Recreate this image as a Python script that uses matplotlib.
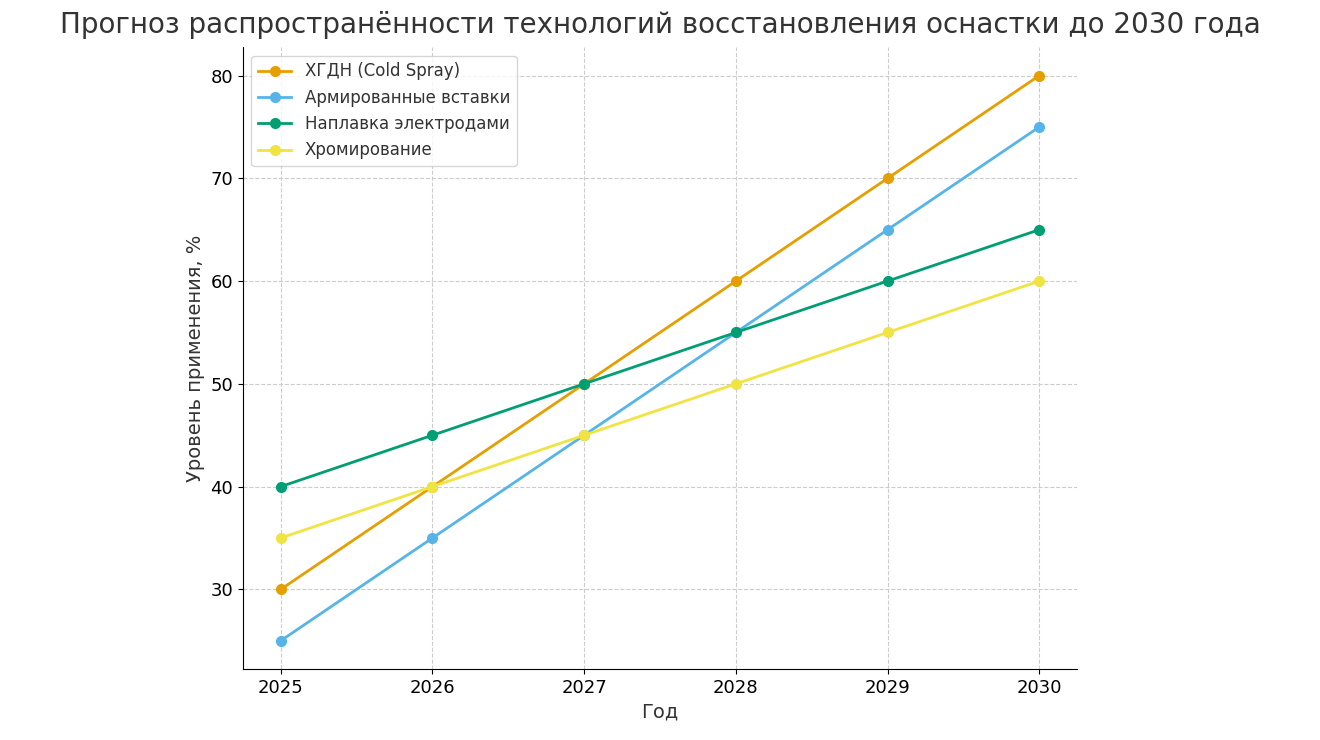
import matplotlib
matplotlib.use("Agg")
import matplotlib.pyplot as plt

years = [2025, 2026, 2027, 2028, 2029, 2030]
cold_spray = [30, 40, 50, 60, 70, 80]
inserts = [25, 35, 45, 55, 65, 75]
welding = [40, 45, 50, 55, 60, 65]
chrome = [35, 40, 45, 50, 55, 60]
labels = ["ХГДН (Cold Spray)", "Армированные вставки", "Наплавка электродами", "Хромирование"]
colors = ["#E69F00", "#56B4E9", "#009E73", "#F0E442"]

fig = plt.figure(figsize=(13.2, 7.4), dpi=100)
ax = fig.add_axes([0.184, 0.096, 0.632, 0.84])
for ys, lab, c in zip([cold_spray, inserts, welding, chrome], labels, colors):
    ax.plot(years, ys, marker="o", color=c, label=lab, linewidth=2, markersize=7)
ax.grid(True, linestyle="--", color="#cccccc", linewidth=0.8)
ax.spines["top"].set_visible(False)
ax.spines["right"].set_visible(False)
ax.tick_params(labelsize=13)
ax.set_xticks(years)
ax.set_xlabel("Год", fontsize=14, color="#333333")
ax.set_ylabel("Уровень применения, %", fontsize=14, color="#333333")
ax.legend(loc="upper left", fontsize=12, labelcolor="#333333")
fig.suptitle("Прогноз распространённости технологий восстановления оснастки до 2030 года",
             fontsize=20, color="#333333", y=0.985)
fig.savefig("out.png", dpi=100)
